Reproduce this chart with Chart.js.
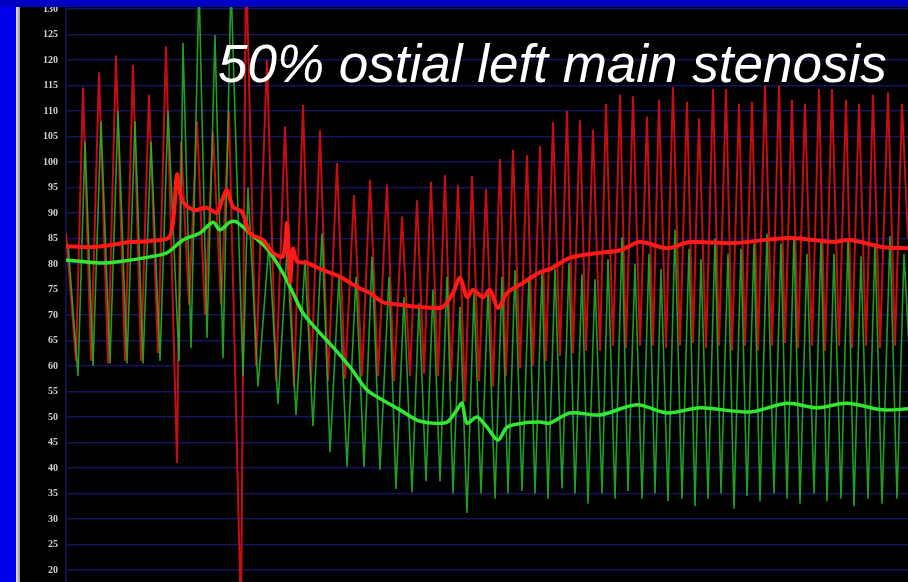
<!DOCTYPE html>
<html lang="en">
<head>
    <meta charset="UTF-8">
    <title>50% ostial left main stenosis</title>
    <script src="https://cdn.jsdelivr.net/npm/chart.js"></script>
    <style>
        html, body {
            margin: 0;
            padding: 0;
            width: 908px;
            height: 582px;
            overflow: hidden;
            background: #0000f0;
        }
        .top-band {
            position: absolute;
            left: 0; top: 0;
            width: 908px; height: 7px;
            background: #0000c4;
        }
        .edge {
            position: absolute;
            left: 16px; top: 7px;
            width: 4px; height: 575px;
            background: linear-gradient(to right, #e6e6e6, #9a9a9a);
        }
        .panel {
            position: absolute;
            left: 20px; top: 7px;
            width: 888px; height: 575px;
            background: #000;
        }
        .slide-title {
            position: absolute;
            left: 218px; top: 37px;
            font: italic 53px 'Liberation Sans', Arial, sans-serif;
            line-height: 53px;
            color: #fff;
            white-space: nowrap;
        }
    </style>
</head>
<body>
    <div class="top-band"></div>
    <div class="edge"></div>
    <div class="panel">
        <canvas id="trace" width="888" height="575"></canvas>
    </div>
    <div class="slide-title">50% ostial left main stenosis</div>

    <script>
        // y-axis ticks (mmHg)
        const yTicks = [20, 25, 30, 35, 40, 45, 50, 55, 60, 65, 70, 75, 80, 85, 90, 95, 100, 105, 110, 115, 120, 125, 130];

        // beat times (systolic peaks) and the diastolic trough that follows each one
        const beatX = [66, 83, 99, 116, 133, 149, 166, 181, 197, 213, 229, 246,
            267, 285, 303, 320, 337, 354, 370, 387, 402, 417, 431, 445, 458, 472, 486, 500, 513, 527, 540, 553,
            567, 580, 593, 606, 620, 633, 647, 659, 673, 687, 699, 713, 726, 739, 752, 765, 779, 792, 805, 819,
            832, 846, 859, 873, 888, 902];
        const troughX = [76, 91, 108, 125, 141, 158, 177, 189, 205, 221, 241, 256,
            276, 294, 311, 328, 345, 362, 378, 394, 410, 424, 438, 451, 465, 479, 493, 506, 520, 533, 546, 560,
            573, 586, 600, 613, 626, 640, 653, 666, 680, 693, 706, 719, 732, 745, 758, 772, 785, 798, 812, 825,
            839, 852, 866, 880, 895, 908];

        // aortic pressure (Pa), red
        const redSys = [86, 114.6, 117.6, 120.9, 119, 113.2, 122.7, 104, 108, 106, 110, 140,
            120, 107, 111.2, 106.2, 99.8, 93.5, 96.5, 95.6, 89.3, 92.5, 96.1, 97.4, 95.5, 97.3, 94.7, 100.6, 102.4, 101.3, 103.1, 107.8,
            110, 108.2, 106.3, 111.4, 113.2, 112.9, 108.9, 112.2, 114.7, 111.8, 108.5, 114.3, 114.3, 111.4, 111.8, 115, 115, 112.2, 111.4, 114.3,
            114.3, 112.2, 111.4, 113.2, 113.6, 111.4];
        const redDia = [61, 61, 60.5, 61, 61, 62.5, 41, 72, 70, 72, 10, 60,
            57, 56, 57, 57, 57.5, 58, 58, 57, 58, 58.5, 58, 57, 53, 57, 56, 58, 59.5, 60, 61, 62,
            62.5, 63, 63, 64, 63.5, 64, 64, 63.5, 64, 64.5, 63.5, 64, 63, 64, 63, 64, 64.5, 63.5, 64, 63,
            64, 63.5, 64, 63.5, 64, 85];

        // distal pressure (Pd), green
        const greenSys = [84, 104, 108, 110, 108, 104, 110, 123.4, 135, 124.9, 135, 95,
            84, 82.7, 80.8, 86, 77.5, 77.5, 81.4, 77.5, 73.5, 72.3, 75, 77.5, 71.6, 74.3, 75, 77.5, 78.8, 77.5, 78.2, 79,
            80.2, 78, 77, 81, 85.3, 80, 82, 79, 86.7, 83, 81, 85, 82, 83, 84, 86, 84, 85.5, 82, 84.5,
            82, 85, 81.5, 84, 85.5, 82];
        const greenDia = [58, 60, 60.5, 60.5, 60.5, 61, 61, 63.5, 65.5, 61.5, 58, 56,
            52.5, 50.4, 48.2, 43.1, 40.2, 40.2, 39.6, 35.9, 35.2, 37.4, 37.4, 35, 31.2, 35, 34, 35, 35.5, 35, 34, 36,
            35, 33, 35, 34, 35.5, 34, 35, 33.5, 34, 32.5, 34, 35, 32, 34.5, 33.5, 35, 34, 33, 35, 33.5,
            34, 32.5, 34, 33, 34, 60];

        // mean pressures
        const redMeanX = [66, 90, 110, 130, 150, 170, 177, 182, 193, 207, 217, 222, 227, 233, 242, 250, 263, 273, 283, 287, 290, 293, 297,
            307, 323, 340, 357, 370, 383, 400, 417, 433, 443, 453, 460, 467, 473, 483, 490, 498, 507, 523, 540, 550, 570,
            600, 620, 640, 667, 690, 733, 790, 833, 850, 883, 908];
        const redMean = [83.5, 83.3, 83.7, 84.3, 84.5, 85.5, 97.5, 92.5, 90.6, 91, 90, 92.5, 94.5, 91.2, 90.2, 86, 84.7, 82.2, 81.5, 88, 76.5, 83, 80.5,
            80.2, 78.8, 77.5, 75.5, 74.3, 72.5, 72, 71.6, 71.4, 71.6, 74.3, 77.3, 73.5, 74.9, 73.5, 74.9, 71.4, 74.3, 76.3, 78.4, 79, 81.2,
            82.2, 82.7, 84.3, 83.1, 84.3, 84.1, 85.1, 84.3, 84.7, 83.3, 83.1];
        const greenMeanX = [66, 100, 120, 150, 167, 183, 200, 213, 220, 230, 237, 250, 267, 283, 293, 303, 317, 333, 350, 367, 383,
            400, 417, 433, 447, 457, 462, 467, 477, 487, 498, 507, 523, 540, 550, 570, 600, 637, 667, 700, 750, 787, 817, 847, 883, 908];
        const greenMean = [80.8, 80.2, 80.5, 81.4, 82.2, 84.7, 86.1, 88.2, 86.7, 88.2, 88.2, 86, 83, 78.2, 74.3, 70.4, 67.1, 63.7, 59.8, 55.3, 53.3,
            51.4, 49.4, 48.8, 49, 51.4, 52.7, 48.8, 50, 48, 45.5, 48, 48.8, 49, 48.8, 50.8, 50.4, 52.4, 50.8, 51.8, 51, 52.7, 51.8, 52.7, 51.4, 51.6];

        const greenLag = 2;

        function pulse(sys, dia, lag) {
            const pts = [];
            beatX.forEach((bx, i) => {
                pts.push({ x: bx + lag, y: sys[i] });
                pts.push({ x: troughX[i] + lag, y: dia[i] });
            });
            return pts;
        }
        function pairs(xs, ys) {
            return xs.map((x, i) => ({ x: x, y: ys[i] }));
        }

        new Chart(document.getElementById('trace'), {
            type: 'line',
            data: {
                datasets: [
                    {
                        label: 'Pa mean',
                        data: pairs(redMeanX, redMean),
                        borderColor: '#ff1a1a',
                        borderWidth: 4,
                        tension: 0.3,
                        order: 0
                    },
                    {
                        label: 'Pd mean',
                        data: pairs(greenMeanX, greenMean),
                        borderColor: '#33e633',
                        borderWidth: 3.5,
                        tension: 0.3,
                        order: 1
                    },
                    {
                        label: 'Pd',
                        data: pulse(greenSys, greenDia, greenLag),
                        borderColor: 'rgba(40, 185, 40, 0.85)',
                        borderWidth: 1.6,
                        tension: 0,
                        order: 2
                    },
                    {
                        label: 'Pa',
                        data: pulse(redSys, redDia, 0),
                        borderColor: 'rgba(205, 16, 16, 0.95)',
                        borderWidth: 2,
                        tension: 0,
                        order: 3
                    }
                ]
            },
            options: {
                responsive: false,
                animation: false,
                layout: { padding: 0 },
                elements: { point: { radius: 0 } },
                plugins: {
                    legend: { display: false },
                    tooltip: { enabled: false }
                },
                scales: {
                    x: { type: 'linear', min: 66, max: 908, display: false },
                    y: {
                        min: 17.65,
                        max: 130.39,
                        afterBuildTicks: (s) => { s.ticks = yTicks.map(v => ({ value: v })); },
                        afterFit: (s) => { s.width = 46; s.paddingTop = 0; s.paddingBottom = 0; },
                        ticks: {
                            color: '#cfcfcf',
                            padding: 8,
                            font: { family: 'Liberation Serif', size: 10, weight: 'bold' }
                        },
                        grid: { color: '#15155e', lineWidth: 1.5, drawTicks: false },
                        border: { display: true, color: '#10104a', width: 2 }
                    }
                }
            }
        });
    </script>
</body>
</html>
